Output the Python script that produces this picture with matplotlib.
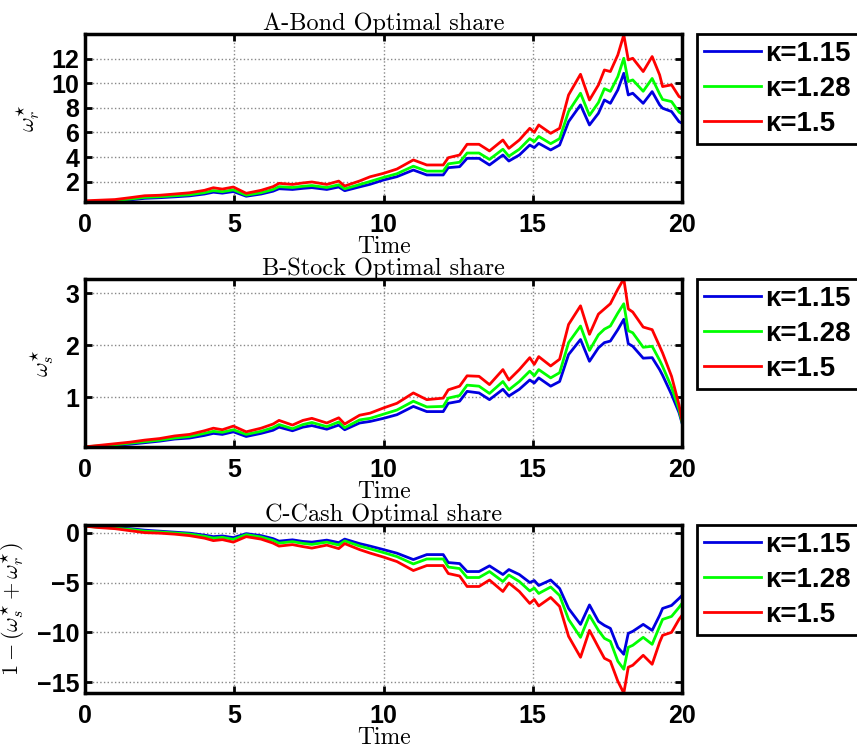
import matplotlib
matplotlib.use("Agg")
import matplotlib.pyplot as plt

# time grid
t = [0, 0.5, 1.0, 1.5, 2.0, 2.5, 3.0, 3.5, 4.0, 4.3, 4.6, 4.97, 5.4, 5.9, 6.3, 6.5,
     6.95, 7.3, 7.6, 8.1, 8.5, 8.7, 9.2, 9.55, 10.0, 10.45, 11.0, 11.45, 12.0, 12.17,
     12.55, 12.8, 13.2, 13.55, 14.0, 14.2, 14.55, 14.9, 15.05, 15.2, 15.6, 15.9, 16.2,
     16.6, 16.9, 17.2, 17.4, 17.6, 17.85, 18.05, 18.2, 18.35, 18.7, 19.0, 19.25, 19.35,
     19.65, 19.9, 20.0]

labels = ['κ=1.15', 'κ=1.28', 'κ=1.5']
colors = ['#0000e0', '#00ff00', '#ff0000']

# A - bond share
bond_115 = [0.35, 0.38, 0.42, 0.52, 0.65, 0.7, 0.77, 0.85, 1.0, 1.15, 1.07, 1.2, 0.82, 1.0,
            1.23, 1.43, 1.37, 1.46, 1.52, 1.37, 1.57, 1.27, 1.58, 1.79, 2.14, 2.41, 2.95,
            2.55, 2.55, 3.14, 3.22, 3.9, 3.9, 3.36, 4.17, 3.68, 4.17, 4.98, 4.77, 5.12,
            4.58, 4.98, 6.88, 8.24, 6.61, 7.56, 8.64, 8.37, 9.46, 10.81, 9.05, 9.19, 8.37,
            9.32, 8.24, 7.97, 7.7, 6.88, 6.75]
bond_128 = [0.39, 0.42, 0.47, 0.59, 0.73, 0.78, 0.86, 0.94, 1.11, 1.28, 1.19, 1.34, 0.91,
            1.11, 1.37, 1.6, 1.53, 1.63, 1.69, 1.53, 1.75, 1.42, 1.77, 2.02, 2.35, 2.65,
            3.26, 2.86, 2.86, 3.45, 3.58, 4.33, 4.33, 3.81, 4.64, 4.07, 4.64, 5.5, 5.25,
            5.68, 5.09, 5.5, 7.71, 9.19, 7.39, 8.43, 9.56, 9.34, 10.54, 12.03, 10.14,
            10.27, 9.35, 10.39, 9.13, 8.68, 8.51, 7.65, 7.5]
bond_150 = [0.45, 0.5, 0.55, 0.7, 0.86, 0.9, 1.0, 1.1, 1.3, 1.51, 1.4, 1.57, 1.06, 1.3,
            1.6, 1.87, 1.78, 1.9, 1.98, 1.78, 2.05, 1.65, 2.06, 2.4, 2.68, 3.03, 3.77,
            3.36, 3.36, 3.95, 4.17, 5.04, 5.04, 4.5, 5.39, 4.71, 5.39, 6.34, 6.01, 6.61,
            5.93, 6.34, 9.05, 10.73, 8.64, 9.86, 11.08, 10.95, 12.3, 13.93, 11.9, 12.03,
            10.95, 12.17, 10.68, 9.73, 9.87, 8.92, 8.8]

# B - stock share
stock_115 = [0.04, 0.05, 0.07, 0.09, 0.12, 0.15, 0.19, 0.21, 0.26, 0.30, 0.28, 0.33, 0.24,
             0.3, 0.36, 0.42, 0.35, 0.42, 0.45, 0.38, 0.46, 0.37, 0.5, 0.53, 0.59, 0.66,
             0.82, 0.72, 0.72, 0.88, 0.92, 1.11, 1.08, 0.95, 1.15, 1.02, 1.15, 1.33, 1.27,
             1.37, 1.21, 1.30, 1.82, 2.11, 1.69, 1.95, 2.05, 2.08, 2.30, 2.50, 2.03, 1.98,
             1.75, 1.76, 1.53, 1.42, 1.05, 0.7, 0.5]
stock_128 = [0.04, 0.06, 0.08, 0.11, 0.14, 0.17, 0.21, 0.24, 0.3, 0.34, 0.32, 0.37, 0.28,
             0.34, 0.41, 0.47, 0.39, 0.47, 0.51, 0.43, 0.52, 0.41, 0.56, 0.59, 0.67, 0.75,
             0.92, 0.81, 0.82, 0.98, 1.03, 1.23, 1.21, 1.07, 1.3, 1.14, 1.3, 1.5, 1.41,
             1.53, 1.37, 1.47, 2.05, 2.37, 1.9, 2.2, 2.31, 2.37, 2.62, 2.8, 2.28, 2.24,
             1.96, 1.98, 1.71, 1.59, 1.19, 0.76, 0.52]
stock_150 = [0.04, 0.07, 0.1, 0.13, 0.17, 0.2, 0.25, 0.28, 0.35, 0.40, 0.37, 0.44, 0.33,
             0.4, 0.48, 0.55, 0.46, 0.55, 0.59, 0.5, 0.6, 0.48, 0.65, 0.69, 0.79, 0.88,
             1.08, 0.95, 0.98, 1.14, 1.21, 1.41, 1.40, 1.24, 1.53, 1.33, 1.53, 1.76, 1.63,
             1.78, 1.6, 1.73, 2.40, 2.76, 2.21, 2.6, 2.70, 2.80, 3.08, 3.28, 2.7, 2.64,
             2.35, 2.30, 1.98, 1.85, 1.40, 0.85, 0.55]

# C - cash share
cash_115 = [0.65, 0.57, 0.5, 0.4, 0.25, 0.15, 0.05, -0.05, -0.25, -0.4, -0.33, -0.5, -0.1,
            -0.3, -0.6, -0.85, -0.72, -0.88, -0.95, -0.75, -1.0, -0.65, -1.1, -1.35, -1.7,
            -2.06, -2.7, -2.2, -2.2, -3.0, -3.1, -3.9, -3.9, -3.33, -4.2, -3.7, -4.2, -5.0,
            -4.8, -5.3, -4.75, -5.6, -7.6, -9.2, -7.25, -8.9, -9.3, -9.6, -11.5, -12.2,
            -10.1, -9.9, -9.2, -9.8, -8.3, -7.6, -7.3, -6.6, -6.3]
cash_128 = [0.65, 0.54, 0.46, 0.33, 0.15, 0.07, -0.03, -0.14, -0.36, -0.55, -0.47, -0.67,
            -0.2, -0.44, -0.78, -1.05, -0.9, -1.08, -1.18, -0.95, -1.24, -0.83, -1.34,
            -1.62, -2.0, -2.4, -3.14, -2.64, -2.64, -3.45, -3.6, -4.5, -4.5, -3.9, -4.9,
            -4.25, -4.9, -5.85, -5.55, -6.1, -5.45, -6.3, -8.7, -10.5, -8.3, -9.8, -10.6,
            -10.9, -12.9, -13.7, -11.5, -11.3, -10.5, -11.2, -9.4, -8.7, -8.4, -7.5, -7.1]
cash_150 = [0.65, 0.5, 0.4, 0.2, 0.0, -0.05, -0.15, -0.3, -0.55, -0.8, -0.7, -0.95, -0.4,
            -0.65, -1.05, -1.35, -1.2, -1.4, -1.55, -1.25, -1.6, -1.1, -1.7, -2.05, -2.45,
            -2.9, -3.8, -3.3, -3.3, -4.1, -4.35, -5.4, -5.4, -4.75, -5.9, -5.05, -5.9,
            -7.1, -6.7, -7.35, -6.5, -7.4, -10.4, -12.5, -9.8, -11.5, -12.6, -12.9, -14.9,
            -16.1, -13.5, -13.3, -12.3, -13.2, -11.0, -10.3, -10.0, -8.7, -8.3]

panels = [
    ('A-Bond Optimal share', r'$\omega_r^{\star}$', [bond_115, bond_128, bond_150],
     (0.35, 14.0), [2, 4, 6, 8, 10, 12]),
    ('B-Stock Optimal share', r'$\omega_s^{\star}$', [stock_115, stock_128, stock_150],
     (0.04, 3.28), [1, 2, 3]),
    ('C-Cash Optimal share', r'$1-(\omega_s^{\star}+\omega_r^{\star})$',
     [cash_115, cash_128, cash_150], (-16.1, 0.75), [0, -5, -10, -15]),
]
bottoms = [0.731, 0.405, 0.077]

plt.rcParams['mathtext.fontset'] = 'cm'
fig = plt.figure(figsize=(8.57, 7.51), dpi=100)

for (title, ylab, series, ylim, yticks), b in zip(panels, bottoms):
    ax = fig.add_axes([0.0992, b, 0.6966, 0.2237])
    for ys, c, lab in zip(series, colors, labels):
        ax.plot(t, ys, color=c, lw=2.0, label=lab)
    ax.set_xlim(0, 20)
    ax.set_ylim(*ylim)
    ax.set_xticks([0, 5, 10, 15, 20])
    ax.set_yticks(yticks)
    ax.grid(True, linestyle=':', color='#888888', lw=1.0)
    for s in ax.spines.values():
        s.set_linewidth(2.5)
    ax.tick_params(direction='in', top=True, right=True, length=5, width=2,
                   labelsize=18, pad=4)
    ax.tick_params(axis='x', pad=8)
    for lbl in ax.get_xticklabels() + ax.get_yticklabels():
        lbl.set_fontfamily('Liberation Sans')
        lbl.set_fontweight('bold')
    ax.set_title(title, fontsize=17.5, family=['cmr10', 'DejaVu Serif'], pad=3)
    ax.set_xlabel('Time', fontsize=17, family=['cmr10', 'DejaVu Serif'], labelpad=-1)
    ax.set_ylabel(ylab, fontsize=16, labelpad=7)
    leg = ax.legend(loc='upper left', bbox_to_anchor=(1.025, 1.0), borderaxespad=0,
                    prop={'family': 'Liberation Sans', 'weight': 'bold', 'size': 20},
                    fancybox=False, framealpha=1, edgecolor='black',
                    handlelength=2.05, labelspacing=0.32, handletextpad=0.15,
                    borderpad=0.25)
    leg.get_frame().set_linewidth(2.0)

fig.savefig('out.png', dpi=100)
